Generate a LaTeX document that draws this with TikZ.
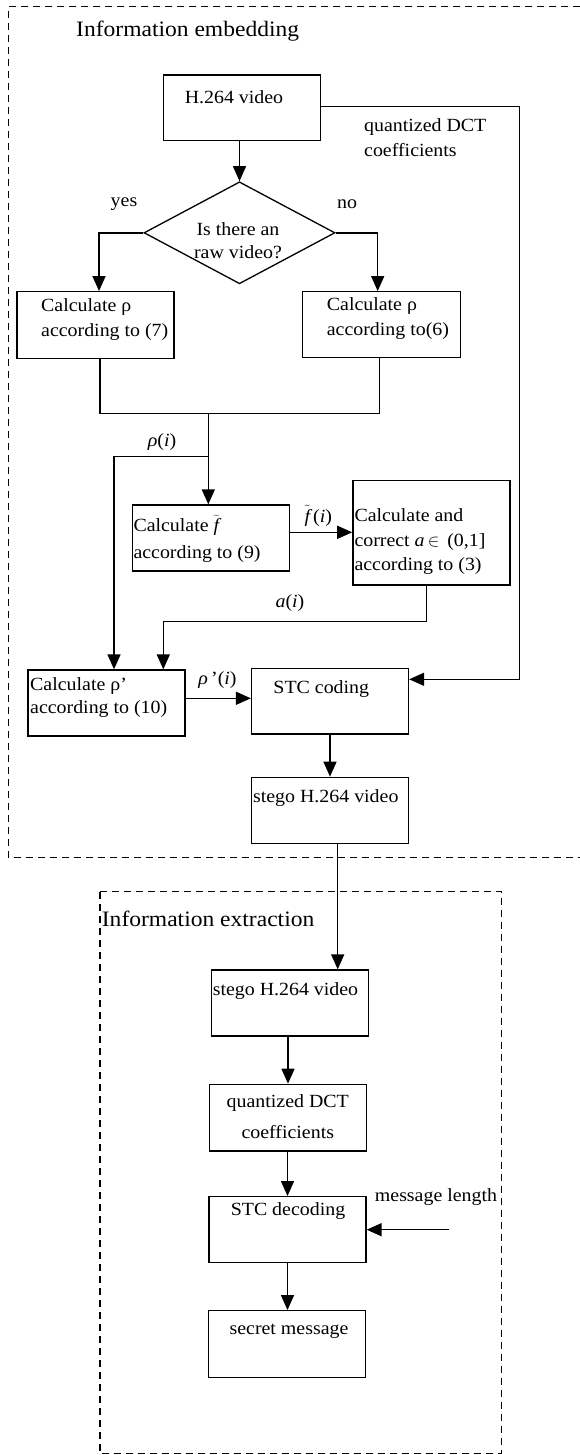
\documentclass[tikz,border=0pt]{standalone}
\usepackage{fontspec}
\setmainfont[FakeStretch=1.07]{Liberation Serif}
\usetikzlibrary{arrows.meta,shapes.geometric}
\begin{document}
\begin{tikzpicture}[x=1pt,y=-1pt,
  every node/.style={font=\fontsize{18.6}{24.5}\selectfont, inner sep=0pt},
  box/.style={draw, line width=1.3pt, minimum width=157pt, minimum height=66pt},
  arr/.style={line width=1.5pt, -{Triangle[length=15pt,width=13pt]}},
  conn/.style={line width=1.5pt},
  frame/.style={line width=1.2pt, dash pattern=on 7pt off 5pt},
  title/.style={font=\fontsize{22}{26}\selectfont, anchor=west},
  lbl/.style={anchor=west, align=left}]
\useasboundingbox (0,0) rectangle (580,1455);

% frames
\draw[frame] (580,6.7) -| (8.3,857.7) -- (580,857.7);
\draw[frame] (100,891.7) rectangle (501.7,1453.5);

\node[title] (t1) at (76,31) {Information embedding};
\node[title] (t2) at (101.7,919.3) {Information extraction};

% boxes
\node[box, minimum width=157.4pt, minimum height=65.7pt] (h264) at (242,107.85) {};
\node[diamond, draw, line width=1.3pt, minimum width=191pt, minimum height=102pt, aspect=1.87] (dia) at (239.5,232.8) {};
\node[box, minimum height=66.6pt] (calc7) at (95.35,325) {};
\node[box, minimum width=158pt] (calc6) at (381.7,324.7) {};
\node[box] (calcf) at (210.8,538) {};
\node[box, minimum height=104.3pt] (calca) at (431.35,532.85) {};
\node[box] (calcr) at (106.35,703) {};
\node[box, minimum height=65.7pt] (stc) at (330,701.15) {};
\node[box] (stego) at (330,810.3) {};
\node[box] (stego2) at (289.65,1003) {};
\node[box, minimum height=66.7pt] (qdct) at (288,1117.65) {};
\node[box] (stcd) at (287.5,1229.7) {};
\node[box, minimum height=66.6pt] (secret) at (286.8,1344) {};

% texts
\node (th264) at (234,97) {H.264 video};
\node[lbl] (tq) at (364,137.8) {quantized DCT\\[1pt]coefficients};
\node[align=center] (tdia) at (238,240.5) {Is there an\\[-1.5pt]raw video?};
\node (tyes) at (124,204) {yes};
\node (tno) at (347,204) {no};
\node[lbl] (t7) at (41,319.5) {Calculate ρ\\according to (7)};
\node[lbl] (t6) at (326.7,318.5) {Calculate ρ\\according to(6)};
\node (trho) at (162,441.7) {\textit{ρ}(\textit{i})};
\node[lbl] (tf) at (133.3,539) {Calculate $\widetilde{\mbox{\itshape f}}$\\[3pt]according to (9)};
\node (tft) at (318.3,516) {$\tilde{\mbox{\itshape f}}$\,(\textit{i})};
\node[lbl] (ta) at (354.3,541.5) {Calculate and\\[0.8pt]correct \textit{a}\,$\in$\, (0,1]\\according to (3)};
\node (tai) at (290,603.3) {\textit{a}(\textit{i})};
\node[lbl] (tr) at (30,697.7) {Calculate ρ’\\[-1.2pt]according to (10)};
\node (trp) at (217.5,680) {\textit{ρ}\,'(\textit{i})};
\node (tstc) at (321.3,689.3) {STC coding};
\node (tstego) at (325.8,798.3) {stego H.264 video};
\node (tstego2) at (285.5,991) {stego H.264 video};
\node[align=center] (tqd) at (287.8,1116.2) {quantized DCT\\[6.5pt]coefficients};
\node (tstcd) at (288,1211) {STC decoding};
\node (tml) at (436,1196.7) {message length};
\node (tsec) at (289,1331.7) {secret message};

% connectors
\coordinate (mj) at (208.3,413.3);
\coordinate (rb) at (208.3,456.7);
\coordinate (ml) at (449.3,1229.7);

\draw[arr] (h264.south -| dia.north) -- (dia.north);
\draw[arr] (dia.west) -| ([xshift=3.65pt]calc7.north);
\draw[arr] (dia.east) -| ([xshift=-4pt]calc6.north);
\draw[conn] ([xshift=4.65pt]calc7.south) |- (mj) -| ([xshift=-2.4pt]calc6.south);
\draw[arr] (mj) -- (mj |- calcf.north);
\draw[arr] (rb) -| ([xshift=7.65pt]calcr.north);
\draw[arr] ([yshift=5.7pt]calcf.east) coordinate (fa) -- (fa -| calca.west);
\draw[arr] ([xshift=-4.65pt]calca.south) -- ++(0,35.7) -| ([xshift=56.95pt]calcr.north);
\draw[arr] ([yshift=4.7pt]calcr.east) coordinate (ra) -- (ra -| stc.west);
\draw[arr] ([yshift=1.15pt]h264.east) -- ++(198.3,0) |- ([yshift=21.85pt]stc.east);
\draw[arr] (stc.south) -- (stego.north);
\draw[arr] ([xshift=7.7pt]stego.south) -- ([xshift=48.05pt]stego2.north);
\draw[arr] (qdct.north |- stego2.south) -- (qdct.north);
\draw[arr] (stcd.north |- qdct.south) -- (stcd.north);
\draw[arr] (stcd.south) -- (stcd.south |- secret.north);
\draw[arr] (ml) -- (stcd.east);
\end{tikzpicture}
\end{document}
